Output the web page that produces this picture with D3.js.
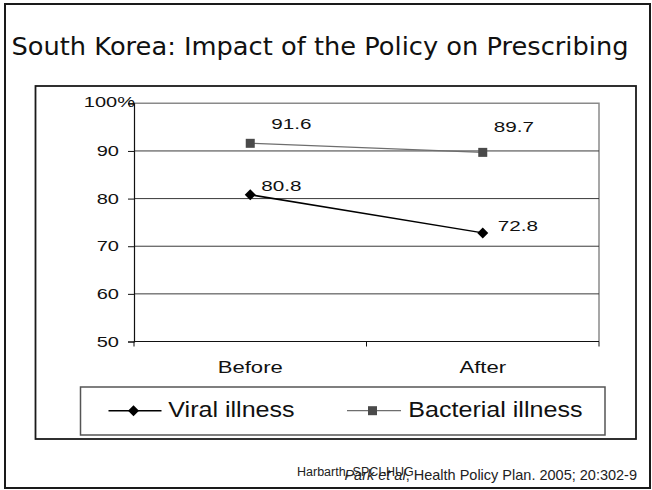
<!DOCTYPE html>
<html>
<head>
<meta charset="utf-8">
<script src="https://cdn.jsdelivr.net/npm/d3@7"></script>
<style>
  html, body { margin: 0; padding: 0; background: #fff; }
  svg { display: block; }
</style>
</head>
<body>
<svg id="chart" width="652" height="490"></svg>
<script>
// Share of prescriptions with antibiotics (%) before and after the policy
const periods = ["Before", "After"];
const viralIllness = [80.8, 72.8];
const bacterialIllness = [91.6, 89.7];
const yTicks = [50, 60, 70, 80, 90, 100];
const seriesNames = ["Viral illness", "Bacterial illness"];
const titleText = "South Korea: Impact of the Policy on Prescribing";
const creditText = "Harbarth, SPCI-HUG";
const sourceItalic = "Park et al";
const sourceRest = ", Health Policy Plan. 2005; 20:302-9";

const svg = d3.select("#chart");
const SANS = "'Liberation Sans', Arial, sans-serif";
const SX = 1.38; // wide chart lettering

// slide frame
svg.append("rect")
  .attr("x", 5).attr("y", 4).attr("width", 645).attr("height", 484)
  .attr("fill", "#fff").attr("stroke", "#1a1a1a").attr("stroke-width", 2);

// title
svg.append("text")
  .attr("x", 11.5).attr("y", 55)
  .attr("font-family", "'DejaVu Sans', Verdana, sans-serif")
  .attr("font-size", 25)
  .attr("fill", "#111")
  .attr("textLength", 617)
  .attr("lengthAdjust", "spacingAndGlyphs")
  .text(titleText);

// chart box
svg.append("rect")
  .attr("x", 35.5).attr("y", 86).attr("width", 600.5).attr("height", 353)
  .attr("fill", "#fff").attr("stroke", "#1a1a1a").attr("stroke-width", 1.8);

const x = d3.scalePoint().domain(periods).range([134, 599]).padding(0.5);
const y = d3.scaleLinear().domain([50, 100]).range([341.5, 103.3]);

// plot area frame (top and right)
svg.append("path")
  .attr("d", `M${x.range()[0]},${y(100)}H${x.range()[1]}V${y(50)}`)
  .attr("fill", "none").attr("stroke", "#8a8a8a").attr("stroke-width", 1.5);

// gridlines
svg.append("g")
  .selectAll("line")
  .data(yTicks.filter(v => v > 50 && v < 100))
  .join("line")
  .attr("x1", x.range()[0]).attr("x2", x.range()[1])
  .attr("y1", d => y(d)).attr("y2", d => y(d))
  .attr("stroke", "#3a3a3a").attr("stroke-width", 1);

// y axis
const yAxis = svg.append("g")
  .attr("transform", `translate(${x.range()[0]},0)`)
  .call(d3.axisLeft(y).tickValues(yTicks).tickSize(6).tickPadding(15)
    .tickFormat(d => d === 100 ? "100%" : String(d)));
yAxis.select(".domain").attr("stroke", "#111").attr("stroke-width", 1.2);
yAxis.selectAll(".tick line").attr("stroke", "#111");
yAxis.selectAll(".tick text")
  .attr("font-family", SANS).attr("font-size", 14.5).attr("fill", "#111")
  .attr("x", d => d === 100 ? 1 / SX : -15 / SX)
  .attr("dy", d => d === 100 ? "0.2em" : "0.32em")
  .attr("transform", `scale(${SX},1)`);

// x axis with boundary ticks between categories
const xAxisG = svg.append("g").attr("transform", `translate(0,${y(50)})`);
xAxisG.append("line")
  .attr("x1", x.range()[0]).attr("x2", x.range()[1])
  .attr("stroke", "#111").attr("stroke-width", 1.2);
const step = x.step();
const bounds = [x(periods[0]) - step / 2, ...periods.map(p => x(p) + step / 2)];
xAxisG.selectAll("line.bound").data(bounds).join("line")
  .attr("class", "bound")
  .attr("x1", d => d).attr("x2", d => d).attr("y1", 0).attr("y2", 5)
  .attr("stroke", "#111");
xAxisG.selectAll("g.cat").data(periods).join("g")
  .attr("class", "cat")
  .attr("transform", d => `translate(${x(d)},31.5) scale(${SX},1)`)
  .append("text")
  .attr("text-anchor", "middle")
  .attr("font-family", SANS).attr("font-size", 16).attr("fill", "#111")
  .text(d => d);

// series lines and markers
const series = [
  { name: seriesNames[0], values: viralIllness, color: "#000", width: 1.5, marker: "diamond" },
  { name: seriesNames[1], values: bacterialIllness, color: "#6e6e6e", width: 1.2, marker: "square" }
];
const line = d3.line().x(d => x(d.p)).y(d => y(d.v));

function drawMarker(g, type, cx, cy) {
  if (type === "diamond") {
    g.append("path")
      .attr("d", `M${cx},${cy - 5.5}L${cx + 5.5},${cy}L${cx},${cy + 5.5}L${cx - 5.5},${cy}Z`)
      .attr("fill", "#000");
  } else {
    g.append("rect")
      .attr("x", cx - 4.5).attr("y", cy - 4.5).attr("width", 9).attr("height", 9)
      .attr("fill", "#4a4a4a");
  }
}

series.forEach(s => {
  const pts = periods.map((p, i) => ({ p, v: s.values[i] }));
  svg.append("path").datum(pts)
    .attr("d", line).attr("fill", "none")
    .attr("stroke", s.color).attr("stroke-width", s.width);
  const g = svg.append("g");
  pts.forEach(d => drawMarker(g, s.marker, x(d.p), y(d.v)));
});

// value labels, nudged off their markers
const labelNudge = {
  "Viral illness": [[11, -4], [15, -2]],
  "Bacterial illness": [[21, -14], [11, -20]]
};
series.forEach(s => {
  periods.forEach((p, i) => {
    const [dx, dy] = labelNudge[s.name][i];
    svg.append("g")
      .attr("transform", `translate(${x(p) + dx},${y(s.values[i]) + dy}) scale(${SX},1)`)
      .append("text")
      .attr("font-family", SANS).attr("font-size", 15).attr("fill", "#111")
      .text(s.values[i].toFixed(1));
  });
});

// legend
const legend = svg.append("g");
legend.append("rect")
  .attr("x", 80.5).attr("y", 387).attr("width", 524.5).attr("height", 48)
  .attr("fill", "#fff").attr("stroke", "#555").attr("stroke-width", 1.5);
const legendItems = [
  { s: series[0], x0: 108.5, x1: 161.5, mx: 133.5, tx: 168.3 },
  { s: series[1], x0: 347, x1: 401, mx: 372.5, tx: 408.3 }
];
legendItems.forEach(it => {
  legend.append("line")
    .attr("x1", it.x0).attr("x2", it.x1).attr("y1", 410.7).attr("y2", 410.7)
    .attr("stroke", it.s.color).attr("stroke-width", it.s.width);
  drawMarker(legend, it.s.marker, it.mx, 410.7);
  legend.append("g")
    .attr("transform", `translate(${it.tx},416.7) scale(1.14,1)`)
    .append("text")
    .attr("font-family", SANS).attr("font-size", 22).attr("fill", "#111")
    .text(it.s.name);
});

// credits
svg.append("text")
  .attr("x", 297).attr("y", 476)
  .attr("font-family", SANS).attr("font-size", 12.5).attr("fill", "#222")
  .text(creditText);
const src = svg.append("text")
  .attr("x", 637).attr("y", 480)
  .attr("text-anchor", "end")
  .attr("font-family", SANS).attr("font-size", 14.5).attr("fill", "#222");
src.append("tspan").attr("font-style", "italic").text(sourceItalic);
src.append("tspan").text(sourceRest);
</script>
</body>
</html>
